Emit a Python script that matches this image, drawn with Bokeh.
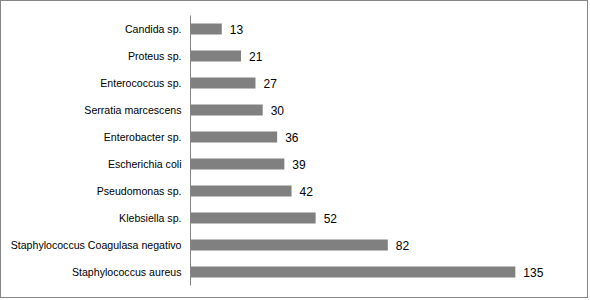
from bokeh.plotting import figure
from bokeh.models import ColumnDataSource, FactorRange, Range1d
from bokeh.core.properties import value
from bokeh.embed import file_html
from bokeh.resources import INLINE

categories = ["Candida sp.", "Proteus sp.", "Enterococcus sp.", "Serratia marcescens",
              "Enterobacter sp.", "Escherichia coli", "Pseudomonas sp.", "Klebsiella sp.",
              "Staphylococcus Coagulasa negativo", "Staphylococcus aureus"]
counts = [13, 21, 27, 30, 36, 39, 42, 52, 82, 135]
labels = [str(c) for c in counts]

src = ColumnDataSource(dict(cat=categories, val=counts, lab=labels))

p = figure(width=588, height=298, output_backend="svg", toolbar_location=None,
           y_range=FactorRange(*list(reversed(categories))),
           x_range=Range1d(0, 160),
           min_border_left=189, min_border_right=14, min_border_top=14, min_border_bottom=14)
p.styles = {"border": "1px solid #868686"}
p.outline_line_color = None
p.background_fill_color = "white"
p.border_fill_color = "white"
p.xgrid.visible = False
p.ygrid.visible = False
p.xaxis.visible = False

p.hbar(y="cat", right="val", left=0, height=0.4, source=src,
       fill_color="#808080", line_color=None)
p.text(x="val", y="cat", text="lab", source=src, x_offset=8,
       text_baseline="middle", text_align="left",
       text_font=value("Liberation Sans"), text_font_size="12px", text_color="#000000")

ya = p.yaxis[0]
ya.axis_line_color = "#868686"
ya.major_tick_line_color = None
ya.minor_tick_line_color = None
ya.major_tick_out = 0
ya.major_tick_in = 0
ya.major_label_standoff = 9
ya.major_label_text_font = "Liberation Sans"
ya.major_label_text_font_size = "10.6px"
ya.major_label_text_color = "#000000"

open("out.html", "w").write(file_html(p, INLINE))
